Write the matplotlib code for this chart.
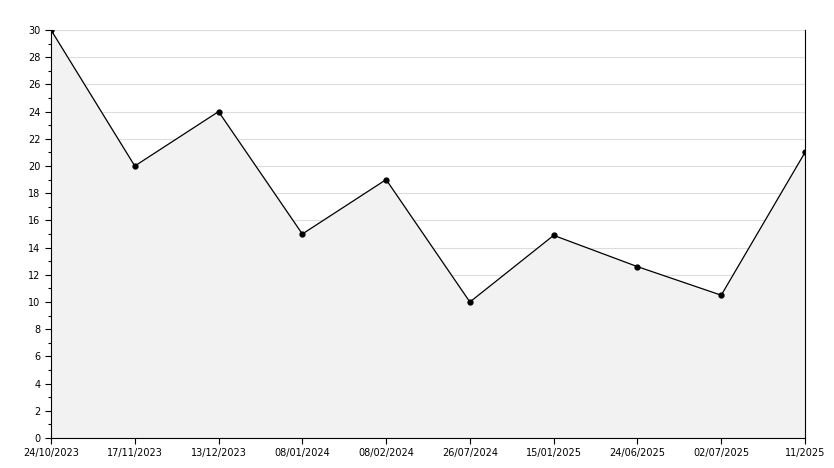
import matplotlib
matplotlib.use("Agg")
import matplotlib.pyplot as plt
from matplotlib.ticker import MultipleLocator

dates = ["24/10/2023", "17/11/2023", "13/12/2023", "08/01/2024", "08/02/2024",
         "26/07/2024", "15/01/2025", "24/06/2025", "02/07/2025", "11/2025"]
values = [30, 20, 24, 15, 19, 10, 14.9, 12.6, 10.5, 21]

fig = plt.figure(figsize=(8.34, 4.68), dpi=100)
ax = fig.add_axes([51 / 834, 30 / 468, 754 / 834, 408 / 468])

x = list(range(len(values)))
ax.fill_between(x, values, 0, color="#f2f2f2", zorder=1)
ax.plot(x, values, color="black", lw=0.9, marker="o", ms=3.5, zorder=3)

ax.set_xlim(0, len(values) - 1)
ax.set_ylim(0, 30)
ax.set_xticks(x)
ax.set_xticklabels(dates)
ax.yaxis.set_major_locator(MultipleLocator(2))
ax.yaxis.set_minor_locator(MultipleLocator(1))
ax.grid(axis="y", color="#dddddd", lw=0.8, zorder=0)
ax.set_axisbelow(True)
ax.spines["top"].set_visible(False)
for s in ["left", "bottom", "right"]:
    ax.spines[s].set_linewidth(0.8)
ax.tick_params(labelsize=7, length=4, width=0.8)
ax.tick_params(which="minor", length=2, width=0.8)

fig.savefig("out.png", dpi=100)
